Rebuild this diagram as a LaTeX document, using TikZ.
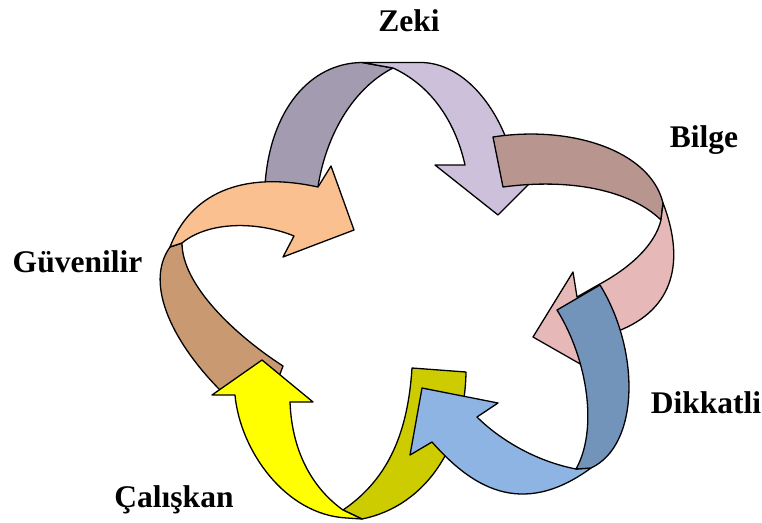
\documentclass[tikz,border=0pt]{standalone}
\usepackage{fontspec}
\setmainfont{Liberation Serif}
\definecolor{zekiBack}{HTML}{A39BB0}
\definecolor{zekiFront}{HTML}{CCC0DA}
\definecolor{bilgeBack}{HTML}{B9958F}
\definecolor{bilgeFront}{HTML}{E6B8B7}
\definecolor{dikBack}{HTML}{7293BA}
\definecolor{dikFront}{HTML}{8DB4E2}
\definecolor{calBack}{HTML}{CCCC00}
\definecolor{calFront}{HTML}{FFFF00}
\definecolor{guvBack}{HTML}{C99A72}
\definecolor{guvFront}{HTML}{FAC090}
\begin{document}
\begin{tikzpicture}[x=1pt,y=-1pt,
  band/.style={draw=black, line width=1.3pt, line join=round},
  lbl/.style={font=\fontsize{31.5}{36}\selectfont\bfseries, anchor=base, inner sep=0pt}]
\useasboundingbox (0,0) rectangle (762,522);

% back faces of the ribbons that lie underneath
\filldraw[band, fill=zekiBack] (264,200) -- (265,185) .. controls (270,110) and (310,63) .. (362,62.5)
  -- (393,68) .. controls (350,90) and (325,140) .. (318,187) -- (317,200) -- cycle;
\filldraw[band, fill=calBack] (412,368) -- (466,372) .. controls (465,440) and (430,505) .. (362,519)
  -- (343,510) .. controls (390,478) and (408,430) .. (412,368) -- cycle;
\filldraw[band, fill=guvBack] (221,391) .. controls (175,345) and (143,285) .. (170,247)
  -- (182,243) .. controls (182,285) and (235,335) .. (283,366) -- (280,374) -- cycle;

% front faces with arrow heads
\filldraw[band, fill=guvFront] (170,247) .. controls (190,195) and (240,170) .. (318,187)
  -- (331,166) -- (354,230) -- (283,257) -- (294,236)
  .. controls (260,222) and (210,220) .. (182,243) -- cycle;
\filldraw[band, fill=calFront] (362,519) -- (347,518) .. controls (285,515) and (240,450) .. (235,395)
  -- (212,395) -- (262,360) -- (313,402) -- (290,402)
  .. controls (292,455) and (315,490) .. (343,510) -- cycle;
\filldraw[band, fill=dikFront] (576,469) .. controls (530,460) and (495,435) .. (477,417)
  -- (498,403) -- (422,388) -- (410,455) -- (432,442)
  .. controls (470,485) and (520,520) .. (591,468) -- cycle;
\filldraw[band, fill=zekiFront] (362,62.5) -- (420,62.5) .. controls (465,62) and (503,112) .. (514,165)
  -- (548,165) -- (498,215) -- (435,165) -- (465,165)
  .. controls (455,120) and (430,85) .. (393,68) -- cycle;

% Bilge ribbon
\filldraw[band, fill=bilgeBack] (493,137) .. controls (570,125) and (650,150) .. (663,203)
  -- (661,220) .. controls (630,190) and (570,178) .. (503,187) -- cycle;
\filldraw[band, fill=bilgeFront] (663,203) .. controls (683,255) and (678,305) .. (623,329) -- (586,345)
  -- (589,369) -- (533,337) -- (573,272) -- (577,297) -- (598,285)
  .. controls (630,268) and (655,245) .. (661,220) -- cycle;

% Dikkatli back face on top of the Bilge head
\filldraw[band, fill=dikBack] (557,310) .. controls (588,360) and (598,430) .. (576,469)
  -- (591,468) .. controls (640,445) and (640,350) .. (600,285) -- cycle;

% labels
\node[lbl] (zeki) at (409,31) {Zeki};
\node[lbl] (bilge) at (704,147) {Bilge};
\node[lbl] (dikkatli) at (706,413) {Dikkatli};
\node[lbl] (caliskan) at (174,507) {Çalışkan};
\node[lbl] (guvenilir) at (77.5,272) {Güvenilir};
\end{tikzpicture}
\end{document}
